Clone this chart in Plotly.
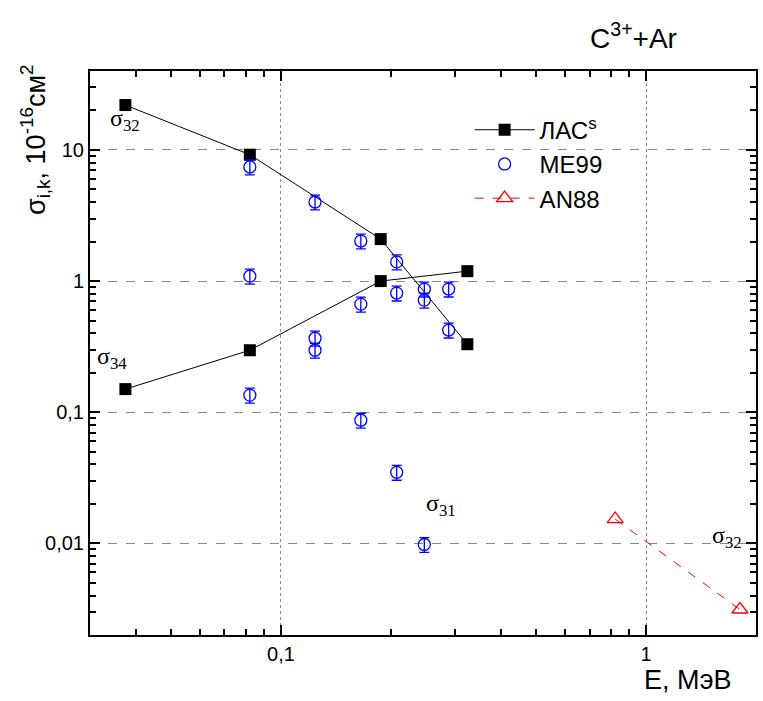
import numpy as np
import plotly.graph_objects as go

# ЛАС^s calculations
las_e32 = [0.0375, 0.0822, 0.1876, 0.324]
las_s32 = [22.0, 9.2, 2.09, 0.33]
las_e34 = [0.0375, 0.0822, 0.1876, 0.324]
las_s34 = [0.15, 0.297, 1.0, 1.19]

# ME99 experiment
me_e = [0.0822, 0.0822, 0.0822, 0.124, 0.124, 0.124, 0.1655, 0.1655, 0.1655,
        0.2075, 0.2075, 0.2075, 0.247, 0.247, 0.247, 0.288, 0.288]
me_s = [7.42, 1.09, 0.135, 4.01, 0.367, 0.297, 2.02, 0.667, 0.0869,
        1.40, 0.81, 0.0348, 0.869, 0.716, 0.0098, 0.869, 0.423]
me_err_pct = 13

# AN88
an_e = [0.823, 1.807]
an_s = [0.0153, 0.00313]

x_ticks = [0.1, 1]
x_ticktext = ["0,1", "1"]
y_ticks = [0.01, 0.1, 1, 10]
y_ticktext = ["0,01", "0,1", "1", "10"]

XR = [np.log10(0.03), np.log10(2.0)]
YR = [np.log10(0.002), np.log10(40)]

fig = go.Figure()
fig.add_trace(go.Scatter(x=las_e32, y=las_s32, mode="lines+markers", name="ЛАС<sup>s</sup>",
                         legendgroup="las",
                         line=dict(color="black", width=1),
                         marker=dict(symbol="square", size=12, color="black")))
fig.add_trace(go.Scatter(x=las_e34, y=las_s34, mode="lines+markers", name="ЛАС<sup>s</sup>",
                         legendgroup="las", showlegend=False,
                         line=dict(color="black", width=1),
                         marker=dict(symbol="square", size=12, color="black")))
fig.add_trace(go.Scatter(x=me_e, y=me_s, mode="markers", name="ME99",
                         marker=dict(symbol="circle-open", size=12, color="blue", line=dict(width=1.3)),
                         error_y=dict(type="percent", value=me_err_pct, color="blue", thickness=1.3, width=5)))
fig.add_trace(go.Scatter(x=an_e, y=an_s, mode="lines+markers", name="AN88",
                         line=dict(color="red", width=1, dash="dash"),
                         marker=dict(symbol="triangle-up-open", size=14, color="red", line=dict(width=1.3))))
# carrier trace (invisible) so that the minor-tick overlay axes get drawn
fig.add_trace(go.Scatter(x=an_e, y=an_s, mode="markers", xaxis="x2", yaxis="y2",
                         marker=dict(opacity=0), showlegend=False, hoverinfo="skip"))

minor_x = [v for d in [0.01, 0.1, 1] for v in [d * k for k in range(2, 10)]]
minor_y = [v for d in [0.001, 0.01, 0.1, 1, 10] for v in [d * k for k in range(2, 10)]]

axis_font = dict(family="Liberation Sans, Arial", size=20, color="black")
fig.update_layout(
    xaxis=dict(type="log", range=XR,
               tickmode="array", tickvals=x_ticks, ticktext=x_ticktext,
               ticks="inside", ticklen=10, tickwidth=2, tickcolor="black",
               showline=True, linecolor="black", linewidth=2, mirror="allticks",
               showgrid=True, gridcolor="#888888", gridwidth=1, griddash="dot",
               zeroline=False, tickfont=axis_font),
    yaxis=dict(type="log", range=YR,
               tickmode="array", tickvals=y_ticks, ticktext=y_ticktext,
               ticks="inside", ticklen=10, tickwidth=2, tickcolor="black",
               showline=True, linecolor="black", linewidth=2, mirror="allticks",
               showgrid=True, gridcolor="#888888", gridwidth=1, griddash="dash",
               zeroline=False, tickfont=axis_font),
    xaxis2=dict(type="log", range=XR, overlaying="x", anchor="y", side="bottom",
                tickmode="array", tickvals=minor_x, showticklabels=False,
                ticks="inside", ticklen=6, tickwidth=1.5, tickcolor="black",
                showline=True, linecolor="black", linewidth=2, mirror="ticks",
                showgrid=False, zeroline=False),
    yaxis2=dict(type="log", range=YR, overlaying="y", anchor="x", side="left",
                tickmode="array", tickvals=minor_y, showticklabels=False,
                ticks="inside", ticklen=6, tickwidth=1.5, tickcolor="black",
                showline=True, linecolor="black", linewidth=2, mirror="ticks",
                showgrid=False, zeroline=False),
)

serif = dict(family="Liberation Serif, Times New Roman", size=24, color="black")
annots = [
    dict(x=np.log10(0.0375), y=1.229, text="σ<sub>32</sub>"),
    dict(x=-1.464, y=-0.588, text="σ<sub>34</sub>"),
    dict(x=-0.563, y=-1.71, text="σ<sub>31</sub>"),
    dict(x=0.221, y=-1.954, text="σ<sub>32</sub>"),
]
for a in annots:
    fig.add_annotation(x=a["x"], y=a["y"], text=a["text"], xref="x", yref="y",
                       showarrow=False, font=serif)

sans = "Liberation Sans, Arial"
fig.add_annotation(x=0.816, y=1.062, xref="paper", yref="paper", text="C<sup>3+</sup>+Ar",
                   xanchor="center", yanchor="middle",
                   showarrow=False, font=dict(family=sans, size=28, color="black"))
fig.add_annotation(x=-0.0823, y=0.878, xref="paper", yref="paper",
                   text="σ<sub>i,k</sub>, 10<sup>-16</sup>см<sup>2</sup>", textangle=-90,
                   xanchor="center", yanchor="middle",
                   showarrow=False, font=dict(family=sans, size=27, color="black"))
fig.add_annotation(x=0.898, y=-0.0798, xref="paper", yref="paper", text="E, МэВ",
                   xanchor="center", yanchor="middle",
                   showarrow=False, font=dict(family=sans, size=27, color="black"))

fig.update_layout(width=763, height=701, margin=dict(l=90, r=5, t=71, b=66),
                  plot_bgcolor="white", paper_bgcolor="white",
                  legend=dict(x=0.57, y=0.935, xanchor="left", yanchor="top", itemwidth=60,
                              bgcolor="rgba(0,0,0,0)", tracegroupgap=0,
                              font=dict(family=sans, size=24, color="black")))

fig.write_html("out.html")
